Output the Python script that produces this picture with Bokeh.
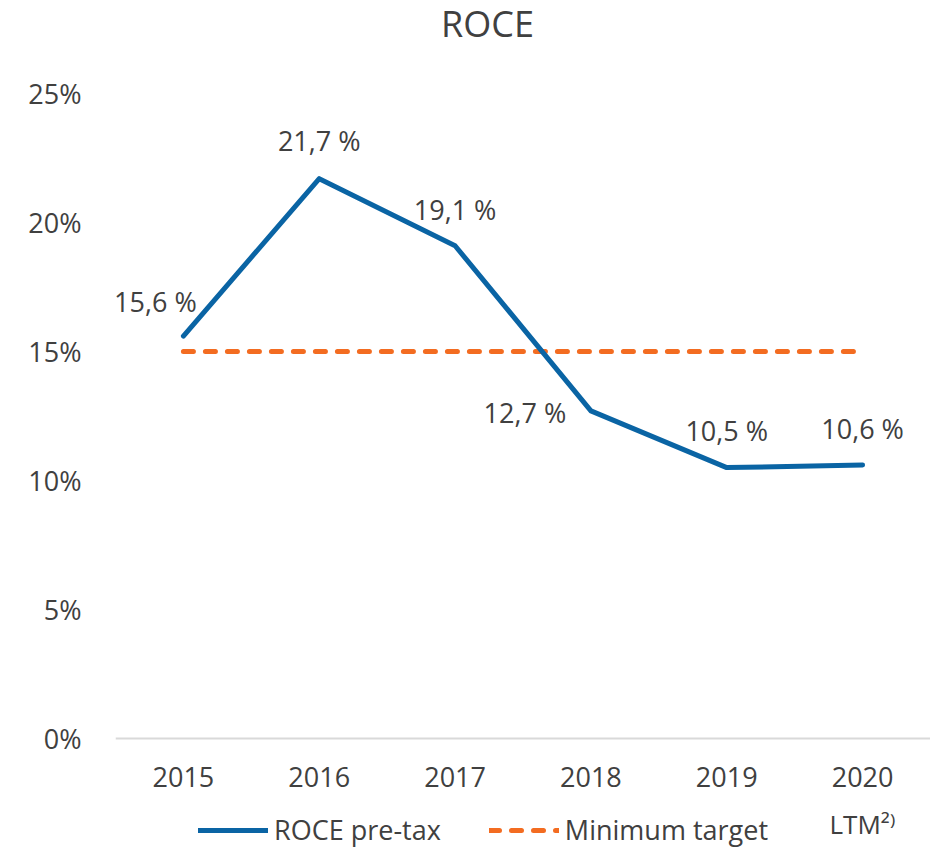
from bokeh.plotting import figure
from bokeh.models import (Range1d, FixedTicker, Legend, LegendItem, ColumnDataSource,
                          LinearAxis, Label)
from bokeh.core.properties import value
from bokeh.embed import file_html
from bokeh.resources import INLINE

years = ["2015", "2016", "2017", "2018", "2019", "2020"]
sublabel_year = "2020"
sublabel = "LTM²⁾"
roce = [15.6, 21.7, 19.1, 12.7, 10.5, 10.6]
target = [15, 15, 15, 15, 15, 15]
y_ticks = [0, 5, 10, 15, 20, 25]

# label offsets (pixels) – styling only
lab_dx = [-28, 0, 0, -66, 0, 0]
lab_dy = [-35, -38, -36, 2, -37, -37]

FONT = "Open Sans"
TXT = "#404040"
BLUE = "#0A64A4"
ORANGE = "#F36C21"

W, H = 930, 852
LEFT = 115                  # frame left edge (px)
TOP_PX, ZERO_PX = 93, 738   # pixel rows of 25% and 0%
px_per_unit = (ZERO_PX - TOP_PX) / 25.0
y_end = 25 + TOP_PX / px_per_unit
y_start = -(H - ZERO_PX) / px_per_unit

# category centres on a numeric scale
xpos = [i + 0.5 for i in range(len(years))]

p = figure(x_range=Range1d(0, len(years)), y_range=Range1d(y_start, y_end),
           width=W, height=H, output_backend="svg", toolbar_location=None,
           x_axis_location=None,
           min_border_left=LEFT, min_border_right=0, min_border_top=0,
           min_border_bottom=0)
p.outline_line_color = None
p.xgrid.grid_line_color = None
p.ygrid.grid_line_color = None

# title
p.add_layout(Label(x=487 - LEFT, y=H - 23, x_units="screen", y_units="screen",
                   text="ROCE", text_font=FONT, text_font_size="36px",
                   text_color=TXT, text_align="center", text_baseline="middle"))

# y axis
p.yaxis.ticker = FixedTicker(ticks=y_ticks)
p.yaxis.major_label_overrides = {t: f"{t}%" for t in y_ticks}
p.yaxis.axis_line_color = None
p.yaxis.major_tick_line_color = None
p.yaxis.minor_tick_line_color = None
p.yaxis.major_label_standoff = 28
p.yaxis.major_label_text_font = FONT
p.yaxis.major_label_text_font_size = "27px"
p.yaxis.major_label_text_color = TXT

# x axis at 0 %
xa = LinearAxis(fixed_location=0, ticker=FixedTicker(ticks=xpos),
                major_label_overrides={x: y for x, y in zip(xpos, years)},
                axis_line_color="#D9D9D9", axis_line_width=2,
                major_tick_line_color=None, minor_tick_line_color=None,
                major_label_standoff=22, major_label_text_font=FONT,
                major_label_text_font_size="27px", major_label_text_color=TXT)
p.add_layout(xa, "below")
sub_x = xpos[years.index(sublabel_year)]
xa2 = LinearAxis(fixed_location=0, ticker=FixedTicker(ticks=[sub_x]),
                 major_label_overrides={sub_x: sublabel},
                 axis_line_color=None,
                 major_tick_line_color=None, minor_tick_line_color=None,
                 major_label_standoff=61, major_label_text_font=FONT,
                 major_label_text_font_size="26px", major_label_text_color=TXT)
p.add_layout(xa2, "below")

src = ColumnDataSource(dict(
    x=xpos, roce=roce, target=target,
    lab=[f"{v:.1f} %".replace(".", ",") for v in roce],
    dx=lab_dx, dy=lab_dy))

r_t = p.line("x", "target", source=src, line_color=ORANGE, line_width=5,
             line_dash="10 12", line_cap="round")
r_r = p.line("x", "roce", source=src, line_color=BLUE, line_width=5,
             line_cap="round", line_join="round")

p.text("x", "roce", text="lab", source=src, x_offset="dx", y_offset="dy",
       text_font=value(FONT), text_font_size="27px", text_color=TXT,
       text_align="center", text_baseline="middle")

legend = Legend(items=[LegendItem(label="ROCE pre-tax", renderers=[r_r]),
                       LegendItem(label="Minimum target", renderers=[r_t])],
                location=(83, 4), orientation="horizontal",
                glyph_width=70, glyph_height=24, label_height=24,
                label_standoff=6, spacing=48,
                padding=0, margin=0, border_line_color=None,
                background_fill_alpha=0,
                label_text_font=FONT, label_text_font_size="27px",
                label_text_color=TXT)
p.add_layout(legend, "center")

open("out.html", "w").write(file_html(p, INLINE))
